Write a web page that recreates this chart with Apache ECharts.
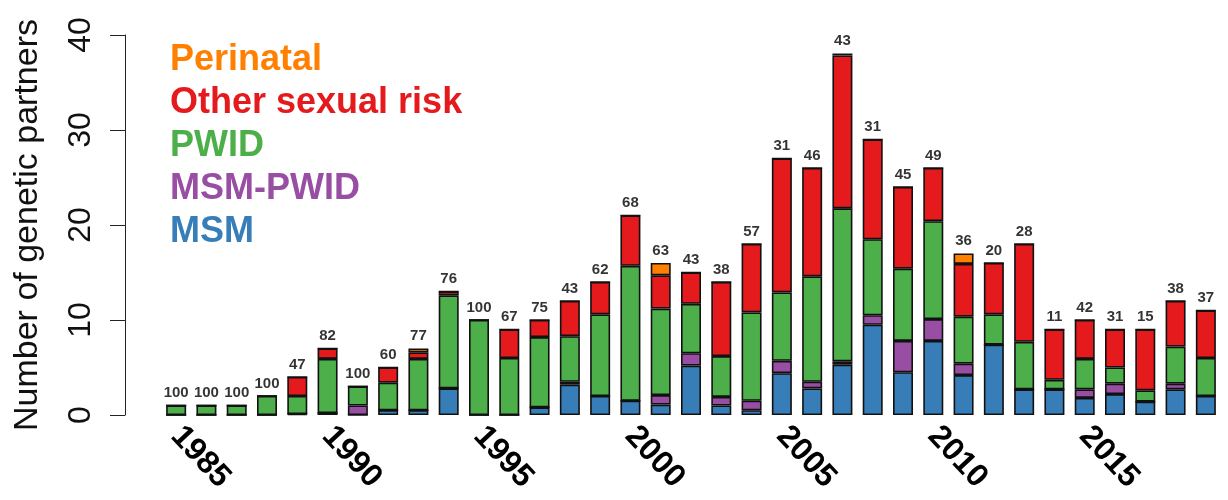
<!DOCTYPE html>
<html>
<head>
<meta charset="utf-8">
<script src="https://cdn.jsdelivr.net/npm/echarts@6/dist/echarts.min.js"></script>
<style>
  html, body { margin: 0; padding: 0; background: #fff; }
  #app { width: 1228px; height: 500px; }
</style>
</head>
<body>
<div id="app"></div>
<script>
var years = [];
for (var y = 1985; y <= 2019; y++) years.push(String(y));

// stacked values per risk group, bottom to top
var msm = [0, 0, 0, 0, 0.1, 0.2, 0, 0.5, 0.5, 2.8, 0, 0, 0.8, 3.2, 2, 1.5, 1.1, 5.2, 1, 0.5,
  4.4, 2.8, 5.3, 9.5, 4.5, 7.8, 4.2, 7.4, 2.7, 2.7, 1.8, 2.2, 1.4, 2.7, 2];
var msmPwid = [0, 0, 0, 0, 0, 0, 1, 0, 0, 0, 0, 0, 0, 0.3, 0, 0, 1, 1.3, 0.9, 1,
  1.3, 0.7, 0.35, 1, 3.3, 2.3, 1.2, 0, 0, 0, 0.9, 1.1, 0, 0.6, 0];
var pwid = [1, 1, 1, 2, 1.9, 5.7, 2, 2.9, 5.4, 9.8, 10, 6, 7.4, 4.8, 8.6, 14.2, 9.1, 5.2, 4.3, 9.3,
  7.2, 11.1, 16.1, 8, 7.6, 10.3, 4.95, 3.2, 5, 1, 3.2, 1.7, 1.2, 3.9, 4];
var otherSexual = [0, 0, 0, 0, 2, 1.1, 0, 1.6, 0.7, 0.4, 0, 3, 1.8, 3.7, 3.4, 5.3, 3.5, 3.3, 7.8, 7.2,
  14.1, 11.4, 16.1, 10.5, 8.6, 5.6, 5.55, 5.4, 10.3, 5.3, 4.1, 4, 6.4, 4.8, 5];
var perinatal = [0, 0, 0, 0, 0, 0, 0, 0, 0.4, 0, 0, 0, 0, 0, 0, 0, 1.3, 0, 0, 0,
  0, 0, 0.2, 0, 0, 0, 1.1, 0, 0, 0, 0, 0, 0, 0, 0];
// numbers printed above each bar
var topLabels = ["100", "100", "100", "100", "47", "82", "100", "60", "77", "76", "100", "67", "75", "43",
  "62", "68", "63", "43", "38", "57", "31", "46", "43", "31", "45", "49", "36", "20", "28", "11", "42",
  "31", "15", "38", "37"];

var groupNames = ["MSM", "MSM-PWID", "PWID", "Other sexual risk", "Perinatal"];
var groupData = [msm, msmPwid, pwid, otherSexual, perinatal];
var groupColors = ["#377EB8", "#984EA3", "#4DAF4A", "#E41A1C", "#FF7F00"];

var font = "'Liberation Sans', Arial, Helvetica, sans-serif";

var totals = years.map(function (_, i) {
  var s = 0;
  groupData.forEach(function (arr) { s += arr[i]; });
  return [i, s];
});

var series = groupNames.map(function (name, k) {
  return {
    name: name,
    type: "bar",
    stack: "all",
    barWidth: 20,
    data: groupData[k],
    itemStyle: { color: groupColors[k], borderColor: "#111", borderWidth: 1.6 },
    emphasis: { disabled: true }
  };
});

series.push({
  name: "labels",
  type: "scatter",
  symbolSize: 0,
  data: totals,
  silent: true,
  label: {
    show: true,
    position: "top",
    distance: 5,
    fontFamily: font,
    fontWeight: "bold",
    fontSize: 15,
    color: "#000",
    formatter: function (p) { return topLabels[p.dataIndex]; }
  }
});

var myChart = echarts.init(document.getElementById("app"));
myChart.setOption({
  animation: false,
  backgroundColor: "#fff",
  grid: { left: 161, right: 7, top: 35, bottom: 85 },
  legend: {
    orient: "vertical",
    left: 160,
    top: 37,
    icon: "none",
    itemWidth: 0,
    itemHeight: 36,
    itemGap: 7,
    selectedMode: false,
    textStyle: { fontFamily: font, fontWeight: "bold", fontSize: 36, lineHeight: 36 },
    data: groupNames.slice().reverse().map(function (n) {
      return { name: n, textStyle: { color: groupColors[groupNames.indexOf(n)] } };
    })
  },
  xAxis: {
    type: "category",
    data: years,
    axisLine: { show: false },
    axisTick: { show: false },
    axisLabel: {
      interval: 4,
      rotate: -47,
      margin: 16,
      fontFamily: font,
      fontWeight: "bold",
      fontSize: 32,
      color: "#000"
    }
  },
  yAxis: {
    type: "value",
    min: 0,
    max: 40,
    interval: 10,
    offset: 36,
    name: "Number of genetic partners",
    nameLocation: "middle",
    nameGap: 80,
    nameTextStyle: { fontFamily: font, fontSize: 34, color: "#111" },
    splitLine: { show: false },
    axisLine: { show: true, lineStyle: { color: "#222", width: 1 } },
    axisTick: { show: true, length: 15, lineStyle: { color: "#222" } },
    axisLabel: { rotate: 90, margin: 28, fontFamily: font, fontSize: 32, color: "#111" }
  },
  series: series
});
</script>
</body>
</html>
